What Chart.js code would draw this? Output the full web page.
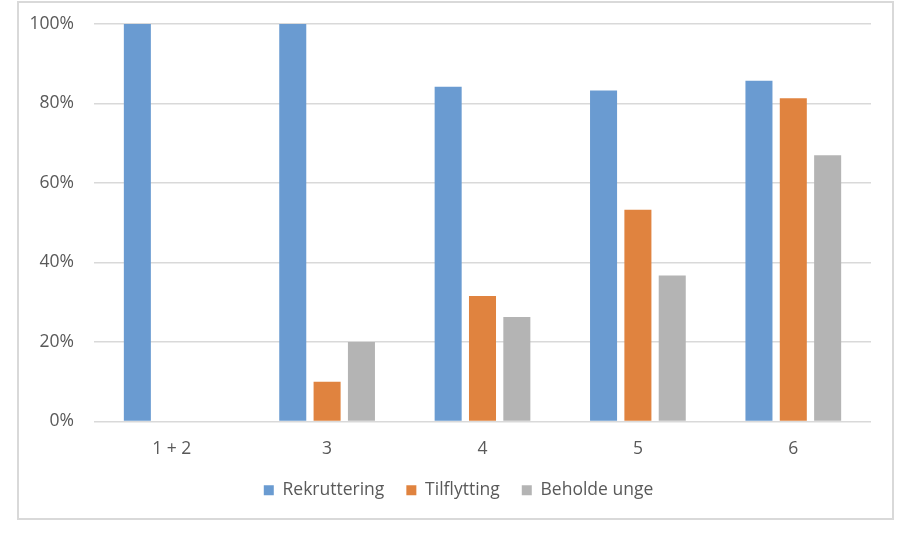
<!DOCTYPE html>
<html>
<head>
<meta charset="utf-8">
<script src="https://cdn.jsdelivr.net/npm/chart.js@4"></script>
<style>
  html, body { margin: 0; padding: 0; background: #ffffff; }
  #wrap { position: relative; width: 902px; height: 540px; }
</style>
</head>
<body>
<div id="wrap"><canvas id="chart" width="902" height="540"></canvas></div>
<script>
// Kategorier og verdier (prosent)
const kategorier = ['1 + 2', '3', '4', '5', '6'];
const rekruttering = [100, 100, 84.2, 83.3, 85.7];
const tilflytting = [0, 10, 31.6, 53.3, 81.3];
const beholdeUnge = [0, 20, 26.3, 36.7, 67];
const yTicks = [0, 20, 40, 60, 80, 100];

// Ramme rundt hele figuren
const rammePlugin = {
    id: 'ramme',
    afterDraw(chart) {
        const ctx = chart.ctx;
        ctx.save();
        ctx.strokeStyle = '#d9d9d9';
        ctx.lineWidth = 2;
        ctx.strokeRect(18, 2, 875, 517);
        ctx.restore();
    }
};

// Flytter forklaringen litt mot høyre, som i originalen
const legendeForskyvning = {
    id: 'legendeForskyvning',
    afterLayout(chart) {
        const lg = chart.legend;
        if (lg) {
            lg.left += 23;
            lg.right += 23;
        }
    }
};

const fontFamily = '"Open Sans", "Noto Sans", sans-serif';

new Chart(document.getElementById('chart'), {
    type: 'bar',
    data: {
        labels: kategorier,
        datasets: [
            { label: 'Rekruttering', data: rekruttering, backgroundColor: '#6a9bd1' },
            { label: 'Tilflytting', data: tilflytting, backgroundColor: '#e0833f' },
            { label: 'Beholde unge', data: beholdeUnge, backgroundColor: '#b4b4b4' }
        ]
    },
    options: {
        responsive: false,
        animation: false,
        categoryPercentage: 0.663,
        barPercentage: 0.787,
        layout: {
            padding: { left: 0, right: 31, top: 24, bottom: 31 }
        },
        scales: {
            x: {
                grid: { display: false, drawTicks: false },
                border: { display: false },
                ticks: {
                    color: '#595959',
                    padding: 17,
                    font: { family: fontFamily, size: 17.5 }
                },
                afterFit(scale) { scale.height = 38; }
            },
            y: {
                min: 0,
                max: 100,
                afterBuildTicks(scale) {
                    scale.ticks = yTicks.map(v => ({ value: v }));
                },
                // usynlige tick-streker gir avstand mellom tekst og rutenett
                grid: {
                    color: '#d9d9d9',
                    lineWidth: 1.5,
                    drawTicks: true,
                    tickLength: 20,
                    tickColor: 'rgba(0,0,0,0)'
                },
                border: { display: false },
                ticks: {
                    color: '#595959',
                    padding: 0,
                    font: { family: fontFamily, size: 17.5 },
                    callback: v => v + '%'
                },
                afterFit(scale) { scale.width = 94; }
            }
        },
        plugins: {
            legend: {
                position: 'bottom',
                labels: {
                    color: '#595959',
                    boxWidth: 10,
                    boxHeight: 10,
                    padding: 22,
                    font: { family: fontFamily, size: 17.5 }
                }
            },
            tooltip: { enabled: false }
        }
    },
    plugins: [rammePlugin, legendeForskyvning]
});
</script>
</body>
</html>
